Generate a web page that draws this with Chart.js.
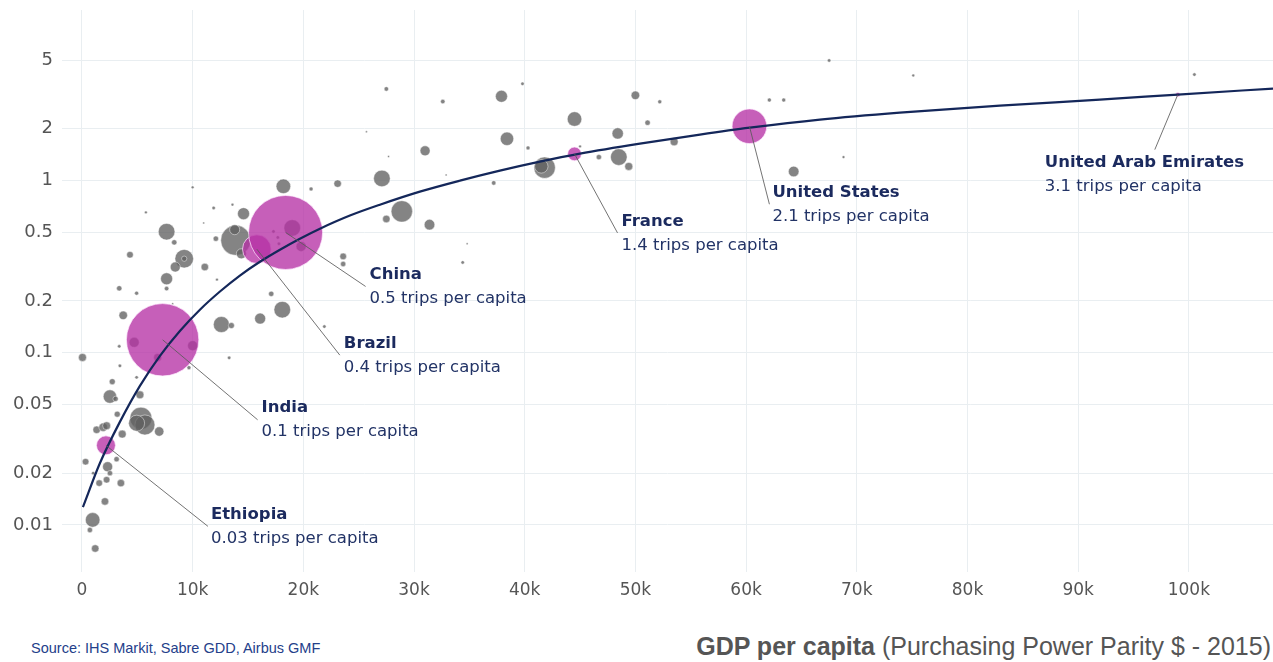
<!DOCTYPE html>
<html><head><meta charset="utf-8">
<script src="https://cdn.jsdelivr.net/npm/chart.js@4.4.1/dist/chart.umd.min.js"></script>
<style>
html,body{margin:0;padding:0;background:#fff;}
#wrap{position:relative;width:1273px;height:662px;overflow:hidden;}
#c{position:absolute;left:0;top:0;}
#src{position:absolute;left:31px;top:640px;font-family:"Liberation Sans",Arial,sans-serif;font-size:14.5px;line-height:17px;color:#24408a;white-space:nowrap;}
#xt{position:absolute;right:2px;top:632px;font-family:"Liberation Sans",Arial,sans-serif;font-size:25px;line-height:29px;color:#555;white-space:nowrap;}
#xt b{font-weight:bold;}
</style></head>
<body><div id="wrap"><canvas id="c" width="1273" height="610"></canvas>
<div id="src">Source: IHS Markit, Sabre GDD, Airbus GMF</div>
<div id="xt"><b>GDP per capita</b> (Purchasing Power Parity $ - 2015)</div></div>
<script>
// ---- data (GDP per capita in thousand $, trips per capita, population in millions) ----
const grayGdp = [3.73,0.05,12.6,16.1,4.72,6.84,10.0,3.37,3.43,13.3,9.67,2.74,2.53,3.04,5.24,3.19,5.33,5.69,4.94,6.98,3.64,1.33,1.92,2.23,0.33,3.13,2.32,2.53,2.23,1.56,3.52,1.02,2.08,0.97,0.72,1.20,4.94,18.2,20.7,10.0,5.78,11.9,13.6,14.6,11.0,7.65,8.34,12.1,13.9,13.8,4.34,9.24,9.24,8.43,11.1,7.65,7.65,3.37,4.94,12.2,14.4,17.1,18.1,19.0,19.8,17.3,17.7,17.8,27.5,32.6,37.9,38.4,31.0,25.7,27.1,23.1,28.9,27.5,31.4,37.2,32.9,23.6,23.6,21.9,34.4,34.8,39.8,44.5,40.3,41.8,41.5,45.0,50.0,52.2,51.1,48.4,48.5,49.4,46.7,53.5,62.1,63.4,64.3,67.5,75.1,68.8,100.5,27.7,13.5,8.2];
const grayTrips = [0.165,0.094,0.146,0.158,0.115,0.094,0.110,0.109,0.084,0.0935,0.082,0.068,0.0557,0.054,0.057,0.044,0.0417,0.0381,0.039,0.0349,0.0337,0.0357,0.037,0.0377,0.0233,0.0241,0.0218,0.020,0.0183,0.0175,0.0175,0.020,0.0137,0.0107,0.00935,0.0073,0.072,0.927,0.895,0.914,0.654,0.694,0.725,0.643,0.568,0.505,0.438,0.460,0.450,0.519,0.371,0.352,0.352,0.315,0.315,0.269,0.236,0.237,0.222,0.266,0.376,0.220,0.178,0.531,0.415,0.507,0.468,0.430,3.41,2.88,3.09,1.75,1.49,1.92,1.03,0.961,0.663,0.599,0.555,0.970,1.08,0.363,0.328,0.142,0.335,0.430,3.65,2.28,1.55,1.19,1.21,1.58,3.13,2.87,2.17,1.88,1.37,1.21,1.37,1.68,2.94,2.94,1.13,4.99,4.08,1.37,4.13,1.38,0.144,0.193];
const grayPop = [18,16,64,30,25,16,25,3,3,3,4,9,45,7,16,9,121,100,64,22,16,14,18,16,11,7,25,7,11,11,14,3,14,53,7,14,3,53,4,2,2,3,2,36,1,69,7,7,225,25,11,86,7,25,14,36,5,7,4,2,25,7,69,69,25,3,3,3,5,5,36,45,25,1,69,14,114,14,28,5,1,11,7,3,3,1,3,53,4,114,45,2,18,4,7,32,69,16,7,16,4,4,28,3,2,2,3,1,9,1];

const hlNames = ["Ethiopia","India","Brazil","China","France","United States","United Arab Emirates"];
const hlGdp   = [2.17, 7.29, 15.8, 18.4, 44.5, 60.3, 99.0];
const hlTrips = [0.029, 0.119, 0.40, 0.50, 1.43, 2.07, 3.16];
const hlPop   = [90, 1310, 205, 1370, 47, 300, 5];
const hlLabel = ["0.03","0.1","0.4","0.5","1.4","2.1","3.1"];

const trendGdp   = [0.09,1.63,3.43,5.24,7.05,8.85,10.66,12.47,14.27,16.08,17.89,19.69,21.5,24.21,26.92,30.53,34.15,37.76,41.37,44.99,50.41,55.83,60.34,66.67,73.89,82.93,91.96,99.0,107.6];
const trendTrips = [0.0127,0.0229,0.0397,0.0643,0.0961,0.134,0.178,0.227,0.281,0.338,0.397,0.46,0.526,0.627,0.725,0.863,1.0,1.143,1.289,1.435,1.641,1.851,2.03,2.264,2.485,2.729,2.955,3.162,3.426];

const yTicks = [0.01,0.02,0.05,0.1,0.2,0.5,1,2,5];
const xTicks = [0,10,20,30,40,50,60,70,80,90,100];

// ---- annotation layout (pixel offsets from the marked point) ----
const annLayout = [
  {ex:102, ey:81, tx:105, ty:69},
  {ex:95,  ey:80, tx:99,  ty:68},
  {ex:83,  ey:106,tx:87,  ty:95},
  {ex:80,  ey:54, tx:84,  ty:42},
  {ex:43,  ey:79, tx:47,  ty:68},
  {ex:20,  ey:78, tx:23,  ty:66},
  {ex:-23, ey:55, tx:-133,ty:68}
];

const rad = p => Math.sqrt(p);

const grayData = grayGdp.map((g,i)=>({x:g, y:grayTrips[i], r:rad(grayPop[i])}));
const hlData = hlGdp.map((g,i)=>({x:g, y:hlTrips[i], r:rad(hlPop[i])}));
const trendData = trendGdp.map((g,i)=>({x:g, y:trendTrips[i]}));

const annPlugin = {
  id:'ann',
  afterDatasetsDraw(chart){
    const ctx = chart.ctx, xs = chart.scales.x, ys = chart.scales.y;
    ctx.save();
    hlNames.forEach((n,i)=>{
      const px = xs.getPixelForValue(hlGdp[i]), py = ys.getPixelForValue(hlTrips[i]);
      const L = annLayout[i];
      ctx.strokeStyle = 'rgba(90,90,90,0.85)';
      ctx.lineWidth = 1;
      ctx.beginPath(); ctx.moveTo(px,py); ctx.lineTo(px+L.ex, py+L.ey); ctx.stroke();
      ctx.textAlign='left'; ctx.textBaseline='middle';
      ctx.fillStyle = '#1b2a5e';
      ctx.font = 'bold 16.5px "DejaVu Sans"';
      ctx.fillText(n, px+L.tx, py+L.ty);
      ctx.fillStyle = '#223366';
      ctx.font = '16.5px "DejaVu Sans"';
      ctx.fillText(hlLabel[i]+' trips per capita', px+L.tx, py+L.ty+24);
    });
    ctx.restore();
  }
};

new Chart(document.getElementById('c'), {
  type:'bubble',
  data:{datasets:[
    {type:'line', data:trendData, borderColor:'#14275a', borderWidth:2.2, pointRadius:0, fill:false, cubicInterpolationMode:'monotone', order:0},
    {data:hlData, backgroundColor:'rgba(182,50,165,0.78)', borderColor:'rgba(255,235,255,0.7)', borderWidth:1, order:1},
    {data:grayData, backgroundColor:'rgba(98,98,98,0.78)', borderColor:'rgba(255,255,255,0.45)', borderWidth:1, order:2}
  ]},
  options:{
    responsive:false, animation:false,
    layout:{autoPadding:false, padding:{top:10,right:0,bottom:0,left:0}},
    plugins:{legend:{display:false}, tooltip:{enabled:false}},
    scales:{
      x:{type:'linear', min:-1.8, max:107.6,
        afterBuildTicks:s=>{s.ticks = xTicks.map(v=>({value:v}));},
        afterFit:s=>{s.height=38; s.paddingLeft=0; s.paddingRight=0;},
        ticks:{callback:v=> v===0?'0':v+'k', color:'#555', font:{family:'DejaVu Sans', size:17}, padding:8, maxRotation:0, autoSkip:false},
        grid:{color:'#e9eef1', drawTicks:false}, border:{display:false}},
      y:{type:'logarithmic', min:0.00533, max:9.8,
        afterBuildTicks:s=>{s.ticks = yTicks.map(v=>({value:v}));},
        afterFit:s=>{s.width=62; s.paddingTop=0; s.paddingBottom=0;},
        ticks:{callback:v=>String(v), color:'#555', font:{family:'DejaVu Sans', size:18}, padding:9, autoSkip:false},
        grid:{color:'#e9eef1', drawTicks:false}, border:{display:false}}
    }
  },
  plugins:[annPlugin]
});
</script></body></html>
